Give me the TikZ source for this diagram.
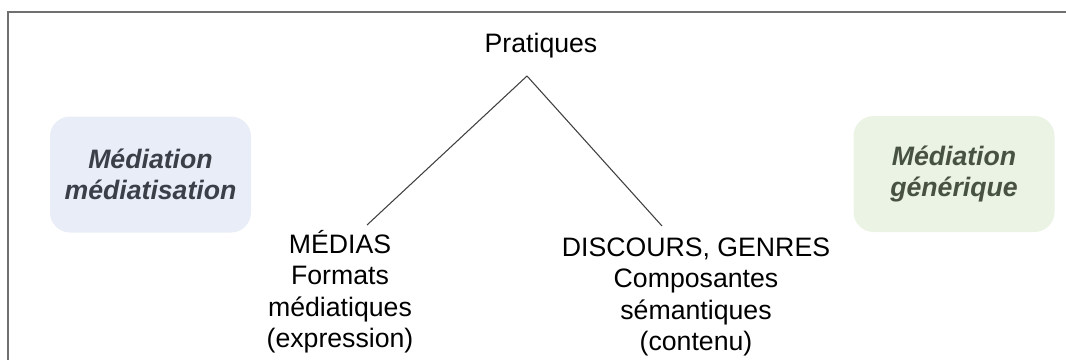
\documentclass[tikz,border=0pt]{standalone}
\usepackage{fontspec}
\setmainfont{Liberation Sans}
\definecolor{mediafill}{HTML}{E8EDF7}
\definecolor{mediatext}{HTML}{3B3F47}
\definecolor{genfill}{HTML}{EAF3E4}
\definecolor{gentext}{HTML}{475243}
\definecolor{framecol}{HTML}{707070}
\definecolor{linecol}{HTML}{404040}

\begin{document}
\begin{tikzpicture}[x=0.75pt, y=-0.75pt, label/.style={font=\fontsize{20}{23.6}\selectfont, align=center, inner sep=0pt}, medbox/.style={rounded corners=15pt, minimum width=150.75pt, minimum height=87pt, align=center, font=\fontsize{20}{23}\selectfont\bfseries\itshape},]
     \useasboundingbox (0,0) rectangle (1066,360);
     \draw[framecol, line width=1.1pt] (8,362) -- (8,12) -- (1068,12);
     \node[label, anchor=base] (prat) at (541,53) {Pratiques};
     \node[label, anchor=base] (media) at (340,347.5) {MÉDIAS\\Formats\\médiatiques\\(expression)};
     \node[label, anchor=base] (disc) at (696,350.5) {DISCOURS, GENRES\\Composantes\\sémantiques\\(contenu)};
     \node[medbox, fill=mediafill, text=mediatext] (mediat) at (150.5,174.5) {Médiation\\médiatisation};
     \node[medbox, fill=genfill, text=gentext] (gener) at (954,174) {Médiation\\générique};
     \coordinate (apex) at (527,76);
     \coordinate (mediaend) at (367,225);
     \coordinate (discend) at (662,226);
     \draw[linecol, line width=0.8pt] (apex) -- (mediaend);
     \draw[linecol, line width=0.8pt] (apex) -- (discend);
   \end{tikzpicture}
\end{document}
